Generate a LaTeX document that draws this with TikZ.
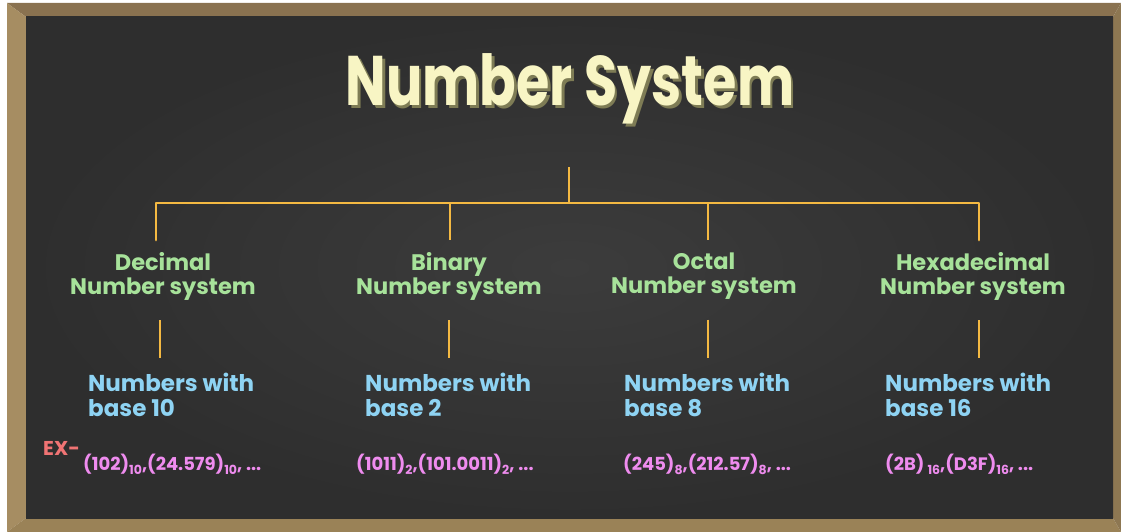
\documentclass[tikz,border=0pt]{standalone}
\usepackage{fontspec}
\setmainfont{Poppins}
\usetikzlibrary{calc}
\definecolor{framedark}{HTML}{8A7250}
\definecolor{frameleft}{HTML}{A68D62}
\definecolor{framebot}{HTML}{9A8257}
\definecolor{frameright}{HTML}{8D7752}
\definecolor{boardlight}{HTML}{3C3C3C}
\definecolor{boarddark}{HTML}{2E2E2E}
\definecolor{titlecream}{HTML}{F8F5C4}
\definecolor{titleshade}{HTML}{7E7C55}
\definecolor{linecol}{HTML}{F4B942}
\definecolor{catgreen}{HTML}{A7E29A}
\definecolor{baseblue}{HTML}{8ED3F3}
\definecolor{expink}{HTML}{EF8CEF}
\definecolor{exred}{HTML}{F07474}
\newcommand{\sbs}[1]{\raisebox{-4.5pt}{\fontsize{12.5}{12.5}\selectfont #1}}
\newcommand{\shadowtext}[1]{\makebox[0pt][l]{\hspace{2.5pt}\raisebox{-2.5pt}{\textcolor{titleshade}{#1}}}#1}
\tikzset{
  titlesty/.style={inner sep=0pt, text=titlecream, font=\bfseries\fontsize{54}{60}\selectfont},
  conn/.style={draw=linecol, line width=2.8pt},
  catsty/.style={inner sep=0pt, align=center, text=catgreen, font=\bfseries\fontsize{22.5}{24}\selectfont},
  basesty/.style={inner sep=0pt, align=left, anchor=north west, text=baseblue, font=\bfseries\fontsize{23}{25}\selectfont},
  exsty/.style={inner sep=0pt, anchor=base west, text=expink, font=\bfseries\fontsize{18}{18}\selectfont},
  exlblsty/.style={inner sep=0pt, anchor=base west, text=exred, font=\bfseries\fontsize{20}{20}\selectfont}
}
\begin{document}
\begin{tikzpicture}[x=1pt,y=-1pt]
\useasboundingbox (0,0) rectangle (1121,532);
\fill[white] (0,0) rectangle (1121,532);
% frame
\fill[framedark] (7,3) -- (1121,3) -- (1113,17) -- (26,17) -- cycle;
\fill[frameleft] (7,3) -- (26,17) -- (26,518) -- (7,532) -- cycle;
\fill[framebot] (7,532) -- (26,518) -- (1113,518) -- (1121,532) -- cycle;
\fill[frameright] (1121,3) -- (1113,17) -- (1113,518) -- (1121,532) -- cycle;
\shade[inner color=boardlight, outer color=boarddark] (26,17) rectangle (1113,518);
% title (with offset shade)
\node[titlesty] (title) at (570,90) {\scalebox{1}[1.3]{\shadowtext{Number System}}};
% tree coordinates
\coordinate (stem) at (569,167);
\coordinate (hub) at (569,203);
\coordinate (j1) at (156,203);
\coordinate (j2) at (450,203);
\coordinate (j3) at (708,203);
\coordinate (j4) at (979,203);
% categories
\node[catsty] (dec) at (163,276) {Decimal\\Number system};
\node[catsty] (bin) at (449,276) {Binary\\Number system};
\node[catsty] (oct) at (704,276) {Octal\\Number system};
\node[catsty] (hex) at (973,276) {Hexadecimal\\Number system};
% bases
\node[basesty] (base1) at (88,373) {Numbers with\\base 10};
\node[basesty] (base2) at (365,373) {Numbers with\\base 2};
\node[basesty] (base3) at (624,373) {Numbers with\\base 8};
\node[basesty] (base4) at (885,373) {Numbers with\\base 16};
% examples
\node[exlblsty] (exlbl) at (43,455) {EX-};
\node[exsty] (ex1) at (83,470) {(102)\sbs{10},(24.579)\sbs{10}, ...};
\node[exsty] (ex2) at (356,470) {(1011)\sbs{2},(101.0011)\sbs{2}, ...};
\node[exsty] (ex3) at (623,470) {(245)\sbs{8},(212.57)\sbs{8}, ...};
\node[exsty] (ex4) at (885,470) {(2B)\,\sbs{16},(D3F)\sbs{16}, ...};
% connectors
\draw[conn] (stem) -- (hub);
\draw[conn, line cap=round, line join=round] (j1) ++(0,37) -- (j1) -- (j4) -- ++(0,37);
\draw[conn] (j2) -- ++(0,37);
\draw[conn] (j3) -- ++(0,37);
\draw[conn] ($(dec.south)+(-3,20)$) -- ($(dec.south)+(-3,58)$);
\draw[conn] ($(bin.south)+(0,20)$) -- ($(bin.south)+(0,58)$);
\draw[conn] ($(oct.south)+(4,20)$) -- ($(oct.south)+(4,58)$);
\draw[conn] ($(hex.south)+(6,20)$) -- ($(hex.south)+(6,58)$);
\end{tikzpicture}
\end{document}
